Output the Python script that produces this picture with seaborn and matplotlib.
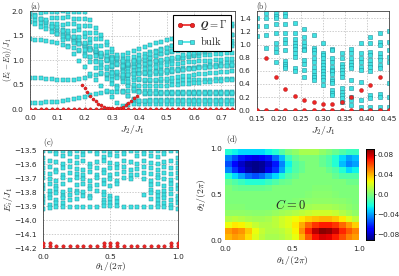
import numpy as np
import pandas as pd
import seaborn as sns
import matplotlib
matplotlib.use("Agg")
import matplotlib.pyplot as plt
from matplotlib.lines import Line2D

nan = np.nan

# ---------------- panel (a): low-lying spectrum vs J2/J1 ----------------
a_j2 = [0.00, 0.02, 0.04, 0.06, 0.08, 0.10, 0.12, 0.14, 0.16, 0.18,
        0.20, 0.22, 0.24, 0.26, 0.28, 0.30, 0.32, 0.34, 0.36, 0.38,
        0.40, 0.42, 0.44, 0.46, 0.48, 0.50, 0.52, 0.54, 0.56, 0.58,
        0.60, 0.62, 0.64, 0.66, 0.68, 0.70, 0.72, 0.74]

# bulk levels: (first grid index, values)
a_lvl_A = (0, [0.13, 0.13, 0.13, 0.135, 0.14, 0.15, 0.16, 0.175, 0.195, 0.22,
               0.25, 0.28, 0.31, 0.33, 0.345, 0.35, 0.355, 0.355, 0.36, 0.36,
               0.36, 0.36, 0.36, 0.36, 0.355, 0.355, 0.355, 0.355, 0.35, 0.35,
               0.35, 0.35, 0.35, 0.35, 0.345, 0.345, 0.345, 0.345])
a_lvl_B = (0, [0.63, 0.63, 0.625, 0.62, 0.61, 0.60, 0.595, 0.59, 0.595, 0.61,
               0.64, 0.67, 0.70, 0.71, 0.70, 0.68, 0.66, 0.64, 0.62, 0.60,
               0.59, 0.58, 0.58, 0.575, 0.575, 0.575, 0.58, 0.58, 0.585, 0.59,
               0.59, 0.595, 0.60, 0.60, 0.605, 0.61, 0.61, 0.615])
a_lvl_C = (0, [1.42, 1.41, 1.40, 1.38, 1.36, 1.34, 1.31, 1.28, 1.24, 1.19,
               1.13, 1.06, 0.98, 0.90, 0.82, 0.75, 0.70, 0.68, 0.69, 0.71,
               0.73, 0.75, 0.77, 0.78, 0.79, 0.80, 0.81, 0.82, 0.83, 0.84,
               0.84, 0.85, 0.86, 0.86, 0.87, 0.87, 0.88, 0.88])
a_lvl_D1 = (0, [1.98, 1.91, 1.84, 1.77, 1.70, 1.63, 1.56, 1.49, 1.42, 1.35,
                1.28, 1.21, 1.14, 1.07, 1.00, 0.94, 0.90, 0.88, 0.88, 0.89,
                0.91, 0.93, 0.95, 0.97, 0.99, 1.01, 1.02, 1.04, 1.05, 1.07,
                1.08, 1.09, 1.10, 1.11, 1.12, 1.13, 1.14, 1.15])
a_lvl_D2 = (0, [1.88, 1.82, 1.76, 1.70, 1.64, 1.58, 1.52, 1.46, 1.40, 1.34,
                1.28, 1.22, 1.16, 1.10, 1.04, 0.99, 0.96, 0.95, 0.96, 0.98,
                1.00, 1.03, 1.06, 1.09, 1.12, 1.14, 1.17, 1.19, 1.21, 1.23,
                1.25, 1.27, 1.29, 1.31, 1.33, 1.35, 1.37, 1.39])
a_lvl_D3 = (0, [1.78, 1.73, 1.68, 1.63, 1.58, 1.53, 1.48, 1.43, 1.38, 1.33,
                1.28, 1.23, 1.18, 1.13, 1.08, 1.04, 1.02, 1.02, 1.04, 1.07,
                1.10, 1.13, 1.16, 1.19, 1.22, 1.25, 1.28, 1.31, 1.34, 1.36,
                1.38, 1.40, 1.42, 1.44, 1.46, 1.48, 1.50, 1.52])
a_lvl_D4 = (0, [1.95, 1.89, 1.83, 1.78, 1.73, 1.68, 1.62, 1.55, 1.48, 1.40,
                1.32, 1.25, 1.19, 1.13, 1.08, 1.06, 1.07, 1.10, 1.14, 1.18,
                1.22, 1.26, 1.30, 1.34, 1.37, 1.40, 1.43, 1.46, 1.49, 1.52,
                1.55, 1.57, 1.59, 1.61, 1.63, 1.65, 1.67, 1.69])
a_lvl_F1 = (2, [1.96, 1.82, 1.68, 1.54, 1.40, 1.26, 1.12, 0.98, 0.85, 0.72,
                0.60, 0.48, 0.36, 0.24, 0.13, 0.06, 0.08, 0.10, 0.10, 0.10,
                0.10, 0.10, 0.10, 0.10, 0.10, 0.10, 0.10, 0.10, 0.095, 0.095,
                0.095, 0.095, 0.095, 0.095, 0.095, 0.095])
a_lvl_F2 = (4, [1.98, 1.85, 1.72, 1.59, 1.46, 1.33, 1.20, 1.07, 0.95, 0.83,
                0.71, 0.59, 0.47, 0.36, 0.26, 0.19, 0.17, 0.17, 0.175, 0.175,
                0.18, 0.18, 0.18, 0.18, 0.18, 0.18, 0.185, 0.185, 0.185, 0.185,
                0.19, 0.19, 0.19, 0.19])
a_lvl_F3 = (6, [2.00, 1.87, 1.74, 1.61, 1.48, 1.35, 1.22, 1.09, 0.97, 0.85,
                0.73, 0.62, 0.51, 0.42, 0.35, 0.31, 0.30, 0.30, 0.30, 0.30,
                0.30, 0.30, 0.30, 0.30, 0.30, 0.30, 0.30, 0.30, 0.30, 0.30,
                0.30, 0.30])
a_lvl_S1 = (3, [1.99, 1.86, 1.73, 1.60, 1.47, 1.34, 1.21, 1.08, 0.96, 0.84,
                0.73, 0.62, 0.52, 0.43, 0.35, 0.27, 0.21, 0.17, 0.16, 0.16,
                0.16, 0.165, 0.165, 0.165, 0.17, 0.17, 0.17, 0.17, 0.17, 0.17,
                0.17, 0.17, 0.17, 0.17, 0.17])
a_lvl_S2 = (5, [1.99, 1.86, 1.73, 1.60, 1.47, 1.34, 1.21, 1.08, 0.96, 0.85,
                0.74, 0.64, 0.55, 0.47, 0.40, 0.35, 0.33, 0.32, 0.32, 0.32,
                0.32, 0.32, 0.32, 0.32, 0.32, 0.32, 0.32, 0.32, 0.32, 0.32,
                0.32, 0.32, 0.32])
a_lvl_V1 = (7, [1.98, 1.84, 1.70, 1.56, 1.42, 1.28, 1.14, 1.01, 0.88, 0.76,
                0.65, 0.56, 0.50, 0.47, 0.46, 0.46, 0.46, 0.47, 0.48, 0.49,
                0.50, 0.51, 0.52, 0.53, 0.54, 0.55, 0.56, 0.57, 0.58, 0.59,
                0.60])
a_lvl_V2 = (8, [1.98, 1.84, 1.70, 1.56, 1.42, 1.29, 1.16, 1.03, 0.91, 0.80,
                0.71, 0.65, 0.61, 0.59, 0.59, 0.60, 0.61, 0.62, 0.64, 0.65,
                0.67, 0.68, 0.70, 0.71, 0.72, 0.73, 0.74, 0.75, 0.76, 0.77])
a_lvl_V3 = (9, [1.98, 1.84, 1.70, 1.56, 1.43, 1.30, 1.17, 1.05, 0.94, 0.85,
                0.78, 0.73, 0.71, 0.70, 0.71, 0.72, 0.74, 0.76, 0.78, 0.80,
                0.82, 0.84, 0.86, 0.87, 0.89, 0.90, 0.92, 0.93, 0.94])
a_lvl_V4 = (10, [1.98, 1.82, 1.66, 1.51, 1.37, 1.23, 1.10, 0.98, 0.90, 0.86,
                 0.85, 0.86, 0.88, 0.90, 0.93, 0.96, 0.99, 1.02, 1.05, 1.08,
                 1.11, 1.14, 1.17, 1.20, 1.23, 1.26, 1.29, 1.32])
a_lvl_R1 = (17, [0.80, 0.82, 0.85, 0.88, 0.91, 0.94, 0.97, 1.00, 1.02, 1.05,
                 1.07, 1.10, 1.12, 1.14, 1.16, 1.18, 1.20, 1.22, 1.24, 1.26, 1.28])
a_lvl_R2 = (17, [0.86, 0.89, 0.93, 0.97, 1.01, 1.05, 1.09, 1.12, 1.16, 1.19,
                 1.22, 1.25, 1.28, 1.31, 1.34, 1.37, 1.40, 1.43, 1.46, 1.49, 1.52])
a_lvl_R3 = (17, [0.88, 0.92, 0.97, 1.02, 1.07, 1.12, 1.17, 1.21, 1.25, 1.29,
                 1.33, 1.37, 1.41, 1.45, 1.49, 1.53, 1.57, 1.61, 1.65, 1.69, 1.73])
a_lvl_R4 = (17, [0.75, 0.76, 0.78, 0.80, 0.82, 0.84, 0.86, 0.88, 0.89, 0.91,
                 0.92, 0.94, 0.95, 0.96, 0.97, 0.98, 0.99, 1.00, 1.01, 1.02, 1.03])
a_lvl_R5 = (17, [0.70, 0.70, 0.71, 0.72, 0.73, 0.74, 0.75, 0.76, 0.77, 0.78,
                 0.79, 0.80, 0.81, 0.82, 0.83, 0.84, 0.85, 0.86, 0.87, 0.88, 0.89])

a_levels = [a_lvl_A, a_lvl_B, a_lvl_C, a_lvl_D1, a_lvl_D2, a_lvl_D3, a_lvl_D4,
            a_lvl_F1, a_lvl_F2, a_lvl_F3, a_lvl_S1, a_lvl_S2,
            a_lvl_V1, a_lvl_V2, a_lvl_V3, a_lvl_V4,
            a_lvl_R1, a_lvl_R2, a_lvl_R3, a_lvl_R4, a_lvl_R5]

# Q = Gamma excitation
a_gamma_j2 = [0.19, 0.20, 0.21, 0.22, 0.23, 0.24, 0.25, 0.26, 0.27, 0.28,
              0.29, 0.30, 0.31, 0.32, 0.33, 0.34, 0.35, 0.36, 0.37, 0.38, 0.39]
a_gamma = [0.50, 0.42, 0.34, 0.27, 0.21, 0.16, 0.11, 0.075, 0.05, 0.03,
           0.02, 0.012, 0.01, 0.015, 0.03, 0.05, 0.08, 0.12, 0.17, 0.22, 0.26]
a_ground = [0.0] * len(a_j2)   # E_0 - E_0

# ---------------- panel (b): smaller cluster ----------------
b_j2 = [0.15, 0.1714, 0.1929, 0.2143, 0.2357, 0.2571, 0.2786, 0.30,
        0.3214, 0.3429, 0.3643, 0.3857, 0.4071, 0.4286, 0.45]
b_gamma = [nan, 0.79, 0.50, 0.32, 0.21, 0.16, 0.12, 0.09,
           0.09, 0.12, 0.20, 0.30, 0.39, 0.51, nan]
b_ground = [0.0, 0.0, 0.0, 0.0, 0.0, 0.0, 0.0, 0.0, 0.0, 0.0, 0.0, 0.0, 0.0, 0.0, 0.0]
b_bulk = [
    [1.40, 1.28, 1.13],
    [1.48, 1.40, 1.28, 1.15, 0.95],
    [1.48, 1.44, 1.40, 1.31, 1.17, 1.02, 0.95, 0.88, 0.73],
    [1.48, 1.44, 1.31, 1.18, 1.08, 1.02, 0.91, 0.75, 0.71, 0.67, 0.64],
    [1.33, 1.18, 1.08, 1.02, 0.97, 0.93, 0.87, 0.81, 0.64, 0.59],
    [1.23, 1.12, 1.04, 0.97, 0.93, 0.91, 0.76, 0.71, 0.61, 0.51],
    [1.15, 0.94, 0.91, 0.87, 0.79, 0.74, 0.66, 0.60, 0.53, 0.50, 0.46],
    [1.03, 0.87, 0.84, 0.79, 0.74, 0.69, 0.64, 0.59, 0.55, 0.50, 0.46, 0.38],
    [0.93, 0.91, 0.80, 0.74, 0.66, 0.61, 0.59, 0.55, 0.48, 0.45, 0.41, 0.31, 0.26, 0.23],
    [0.87, 0.79, 0.71, 0.66, 0.61, 0.56, 0.51, 0.33, 0.28, 0.23, 0.18, 0.13],
    [0.93, 0.87, 0.79, 0.74, 0.69, 0.64, 0.46, 0.33, 0.20, 0.15, 0.08],
    [1.02, 0.87, 0.79, 0.74, 0.66, 0.61, 0.43, 0.15, 0.04],
    [1.12, 1.02, 0.89, 0.84, 0.76, 0.71, 0.66, 0.59, 0.23, 0.18, 0.04],
    [1.17, 1.04, 0.99, 0.87, 0.81, 0.76, 0.69, 0.64, 0.25, 0.20, 0.04],
    [1.20, 1.04, 0.92, 0.81, 0.74, 0.41, 0.20, 0.05],
]

# ---------------- panel (c): spectrum vs twist angle ----------------
c_theta = [0.0, 0.05, 0.1, 0.15, 0.2, 0.25, 0.3, 0.35, 0.4, 0.45, 0.5,
           0.55, 0.6, 0.65, 0.7, 0.75, 0.8, 0.85, 0.9, 0.95, 1.0]
c_band1 = [-13.51, -13.505, -13.505, -13.51, -13.505, -13.505, -13.51, -13.505, -13.505, -13.51, -13.505,
           -13.505, -13.51, -13.505, -13.505, -13.51, -13.505, -13.505, -13.51, -13.505, -13.51]
c_band2 = [-13.555, nan, -13.53, -13.54, -13.53, -13.55, -13.535, nan, -13.53, -13.55, -13.535,
           -13.54, -13.53, nan, -13.545, -13.53, -13.54, -13.55, -13.53, nan, -13.555]
c_band3 = [-13.59, -13.58, -13.585, -13.60, -13.58, -13.59, -13.575, -13.60, -13.585, -13.58, -13.59,
           -13.60, -13.58, -13.585, -13.60, -13.58, -13.59, -13.60, -13.585, -13.58, -13.59]
c_band4 = [-13.63, -13.62, -13.64, -13.625, -13.62, -13.635, -13.64, -13.62, -13.63, -13.64, -13.625,
           -13.63, -13.62, -13.64, -13.635, -13.62, -13.63, -13.645, -13.62, -13.63, -13.63]
c_band5 = [-13.665, -13.67, -13.66, -13.68, -13.665, -13.67, -13.68, -13.66, -13.675, -13.665, -13.68,
           -13.67, -13.66, -13.675, -13.68, -13.665, -13.67, -13.68, -13.665, -13.67, -13.665]
c_band6 = [-13.70, -13.71, -13.72, -13.70, -13.715, -13.70, -13.71, -13.72, -13.70, -13.715, -13.71,
           -13.72, -13.70, -13.71, nan, -13.705, -13.72, -13.70, -13.71, -13.715, -13.70]
c_band7 = [-13.75, -13.74, -13.76, -13.745, nan, -13.75, -13.74, -13.76, -13.75, -13.74, -13.755,
           -13.745, nan, nan, nan, nan, -13.75, -13.74, -13.76, -13.745, -13.75]
c_band8 = [-13.78, -13.79, -13.78, -13.80, -13.785, -13.79, -13.80, -13.78, -13.79, -13.80, nan,
           nan, nan, nan, nan, nan, -13.785, -13.80, -13.79, -13.78, -13.78]
c_band9 = [-13.825, -13.82, -13.81, -13.83, -13.82, -13.81, -13.825, -13.83, nan, -13.82, -13.83,
           nan, nan, nan, nan, -13.82, -13.81, -13.83, -13.82, -13.815, -13.825]
c_band10 = [-13.85, -13.845, -13.86, -13.84, -13.855, -13.85, nan, -13.845, nan, -13.86, -13.85,
            -13.845, nan, nan, nan, nan, -13.85, -13.86, -13.845, -13.855, -13.85]
c_band11 = [-13.88, -13.89, -13.875, -13.88, nan, nan, nan, nan, nan, -13.875, -13.88,
            -13.87, nan, nan, nan, nan, nan, -13.885, -13.88, -13.89, -13.88]
c_band12 = [-13.92, -13.915, -13.905, -13.905, -13.905, -13.905, -13.905, -13.905, -13.905, -13.90, -13.90,
            -13.90, -13.905, -13.905, -13.905, -13.91, -13.91, -13.905, -13.91, -13.915, -13.92]
c_bands = [c_band1, c_band2, c_band3, c_band4, c_band5, c_band6,
           c_band7, c_band8, c_band9, c_band10, c_band11, c_band12]
c_gs_low = [-14.185] * len(c_theta)
c_gs_up_theta = [0.0, 0.05, 0.45, 0.5, 0.55, 0.95, 1.0]
c_gs_up = [-14.165, -14.165, -14.165, -14.165, -14.165, -14.165, -14.165]

# ---------------- panel (d): Berry curvature, rows from theta2=1 down to 0 ----------------
d_berry = [
    [-0.02, -0.025, -0.03, -0.03, -0.03, -0.03, -0.025, -0.02, -0.01, 0.0, 0.005, 0.01, 0.01, 0.01, 0.005, 0.0, -0.005, -0.01, -0.015, -0.015],
    [-0.045, -0.055, -0.065, -0.072, -0.075, -0.072, -0.065, -0.05, -0.035, -0.015, -0.005, 0.0, 0.0, 0.0, -0.005, -0.01, -0.02, -0.03, -0.04, -0.035],
    [-0.055, -0.068, -0.08, -0.088, -0.09, -0.088, -0.08, -0.065, -0.045, -0.025, -0.01, -0.005, 0.0, 0.0, -0.005, -0.01, -0.02, -0.035, -0.045, -0.04],
    [-0.045, -0.06, -0.075, -0.085, -0.09, -0.087, -0.075, -0.06, -0.04, -0.02, -0.01, -0.005, 0.0, 0.0, 0.0, -0.005, -0.01, -0.02, -0.03, -0.025],
    [-0.02, -0.03, -0.04, -0.05, -0.055, -0.05, -0.04, -0.03, -0.02, -0.01, -0.005, 0.0, 0.0, 0.0, 0.0, 0.0, -0.005, -0.01, -0.01, -0.01],
    [-0.005, -0.01, -0.015, -0.02, -0.02, -0.02, -0.015, -0.01, -0.005, -0.003, 0.0, 0.0, 0.0, 0.0, 0.0, 0.0, 0.0, 0.0, -0.003, -0.003],
    [0.0, -0.003, -0.005, -0.005, -0.005, -0.005, -0.003, 0.0, 0.0, 0.0, 0.0, 0.0, 0.0, 0.002, 0.002, 0.002, 0.0, 0.0, 0.0, 0.0],
    [0.0, 0.0, 0.0, 0.0, 0.0, 0.0, 0.0, 0.0, 0.0, 0.0, 0.0, 0.0, 0.002, 0.003, 0.003, 0.003, 0.002, 0.0, 0.0, 0.0],
    [0.0, 0.0, 0.0, 0.0, 0.0, 0.0, 0.0, 0.0, 0.0, 0.0, 0.002, 0.003, 0.004, 0.005, 0.005, 0.005, 0.004, 0.003, 0.002, 0.0],
    [0.002, 0.002, 0.002, 0.0, 0.0, 0.0, 0.0, 0.002, 0.003, 0.004, 0.005, 0.006, 0.008, 0.01, 0.01, 0.01, 0.008, 0.006, 0.004, 0.002],
    [0.005, 0.005, 0.005, 0.004, 0.003, 0.003, 0.004, 0.006, 0.008, 0.01, 0.012, 0.014, 0.016, 0.018, 0.018, 0.018, 0.016, 0.012, 0.008, 0.005],
    [0.012, 0.014, 0.012, 0.01, 0.008, 0.008, 0.01, 0.014, 0.018, 0.022, 0.026, 0.03, 0.035, 0.038, 0.04, 0.04, 0.036, 0.03, 0.022, 0.015],
    [0.025, 0.03, 0.028, 0.022, 0.016, 0.012, 0.012, 0.014, 0.018, 0.022, 0.03, 0.042, 0.055, 0.065, 0.07, 0.07, 0.065, 0.055, 0.045, 0.035],
    [0.045, 0.05, 0.046, 0.036, 0.025, 0.016, 0.012, 0.012, 0.014, 0.018, 0.028, 0.048, 0.068, 0.082, 0.09, 0.088, 0.08, 0.068, 0.058, 0.05],
    [0.04, 0.045, 0.042, 0.032, 0.022, 0.014, 0.01, 0.01, 0.012, 0.016, 0.024, 0.04, 0.058, 0.072, 0.078, 0.076, 0.07, 0.06, 0.05, 0.045],
]
d_ticks = [0.08, 0.04, 0.0, -0.04, -0.08]

# ---------------- style ----------------
CYAN, CYAN_EDGE = "#3fe3e3", "#23909a"
RED, RED_EDGE = "#ee2424", "#a81010"

sns.set_style("whitegrid")
plt.rcParams["font.family"] = ["DejaVu Sans"]
plt.rcParams["mathtext.fontset"] = "cm"
plt.rcParams["xtick.labelsize"] = 5.3
plt.rcParams["ytick.labelsize"] = 5.3
plt.rcParams["axes.labelsize"] = 7


def style_axes(ax):
    ax.grid(True, color="0.72", linestyle=(0, (2, 2)), linewidth=0.5)
    for sp in ax.spines.values():
        sp.set_color("0.25")
        sp.set_linewidth(0.6)
    ax.tick_params(pad=1.0)


def bulk_frame(x, levels):
    parts = []
    for start, vals in levels:
        parts.append(pd.DataFrame({"x": x[start:start + len(vals)], "E": vals}))
    return pd.concat(parts, ignore_index=True)


fig = plt.figure(figsize=(3.99, 2.76), dpi=100)
ax_a = fig.add_axes([0.0752, 0.605, 0.5138, 0.355])
ax_b = fig.add_axes([0.644, 0.601, 0.331, 0.359])
ax_c = fig.add_axes([0.1078, 0.1014, 0.338, 0.355])
ax_d = fig.add_axes([0.564, 0.1304, 0.336, 0.33])
cax = fig.add_axes([0.917, 0.1304, 0.02, 0.33])

# (a)
df_a = bulk_frame(a_j2, a_levels)
sns.scatterplot(data=df_a, x="x", y="E", marker="s", s=7.5, color=CYAN,
                edgecolor=CYAN_EDGE, linewidth=0.35, ax=ax_a, legend=False, zorder=2)
sns.scatterplot(x=a_j2, y=a_ground, marker="o", s=6, color=RED, edgecolor=RED_EDGE,
                linewidth=0.3, ax=ax_a, legend=False, zorder=3)
sns.scatterplot(x=a_gamma_j2, y=a_gamma, marker="o", s=5, color=RED, edgecolor=RED_EDGE,
                linewidth=0.3, ax=ax_a, legend=False, zorder=3)
ax_a.set_xlim(0, 0.75)
ax_a.set_ylim(0, 2.0)
ax_a.set_xticks([0.0, 0.1, 0.2, 0.3, 0.4, 0.5, 0.6, 0.7])
ax_a.set_yticks([0.0, 0.5, 1.0, 1.5, 2.0])
ax_a.set_xlabel(r"$J_2/J_1$", labelpad=1)
ax_a.set_ylabel(r"$(E_i-E_0)/J_1$", fontsize=5.6)
ax_a.yaxis.set_label_coords(-0.079, 0.5)
style_axes(ax_a)
handles = [Line2D([0], [0], color=RED, marker="o", ms=3.2, lw=1.2, mec=RED_EDGE, mew=0.4),
           Line2D([0], [0], color=CYAN, marker="s", ms=3.2, lw=1.2, mec=CYAN_EDGE, mew=0.4)]
leg = ax_a.legend(handles, [r"$\boldsymbol{Q}=\Gamma$", r"$\mathrm{bulk}$"],
                  loc="upper right", fontsize=7.5, numpoints=2, handlelength=1.8,
                  frameon=True, fancybox=False, framealpha=1, edgecolor="k",
                  borderaxespad=0.35, handletextpad=0.5, borderpad=0.35, labelspacing=0.3)
leg.get_frame().set_linewidth(0.8)
ax_a.text(0.0, 0.985, r"$\mathrm{(a)}$", transform=ax_a.transAxes, fontsize=5.5, va="bottom")

# (b)
bx, by = [], []
for xv, col in zip(b_j2, b_bulk):
    bx += [xv] * len(col)
    by += col
sns.scatterplot(x=bx, y=by, marker="s", s=8, color=CYAN, edgecolor=CYAN_EDGE,
                linewidth=0.4, ax=ax_b, legend=False, zorder=2)
sns.scatterplot(x=b_j2, y=b_ground, marker="o", s=8, color=RED, edgecolor=RED_EDGE,
                linewidth=0.3, ax=ax_b, legend=False, zorder=3)
sns.scatterplot(x=b_j2, y=b_gamma, marker="o", s=8, color=RED, edgecolor=RED_EDGE,
                linewidth=0.3, ax=ax_b, legend=False, zorder=3)
ax_b.set_xlim(0.15, 0.45)
ax_b.set_ylim(0, 1.51)
ax_b.set_xticks([0.15, 0.20, 0.25, 0.30, 0.35, 0.40, 0.45])
ax_b.set_xticklabels(["0.15", "0.20", "0.25", "0.30", "0.35", "0.40", "0.45"])
ax_b.set_yticks([0.0, 0.2, 0.4, 0.6, 0.8, 1.0, 1.2, 1.4])
ax_b.set_xlabel(r"$J_2/J_1$", labelpad=1)
style_axes(ax_b)
ax_b.text(-0.01, 0.985, r"$\mathrm{(b)}$", transform=ax_b.transAxes, fontsize=5.5, va="bottom")

# (c)
cx, cy = [], []
for band in c_bands:
    for xv, yv in zip(c_theta, band):
        if not np.isnan(yv):
            cx.append(xv)
            cy.append(yv)
sns.scatterplot(x=cx, y=cy, marker="s", s=6, color=CYAN, edgecolor=CYAN_EDGE,
                linewidth=0.35, ax=ax_c, legend=False, zorder=2)
sns.scatterplot(x=c_theta, y=c_gs_low, marker="o", s=6, color=RED, edgecolor=RED_EDGE,
                linewidth=0.3, ax=ax_c, legend=False, zorder=3)
sns.scatterplot(x=c_gs_up_theta, y=c_gs_up, marker="o", s=6, color=RED, edgecolor=RED_EDGE,
                linewidth=0.3, ax=ax_c, legend=False, zorder=3)
ax_c.set_xlim(0, 1)
ax_c.set_ylim(-14.2, -13.5)
ax_c.set_xticks([0.0, 0.5, 1.0])
ax_c.set_yticks([-14.2, -14.1, -14.0, -13.9, -13.8, -13.7, -13.6, -13.5])
ax_c.set_xlabel(r"$\theta_1/(2\pi)$", labelpad=0, fontsize=6.8)
ax_c.set_ylabel(r"$E_i/J_1$")
ax_c.yaxis.set_label_coords(-0.21, 0.5)
style_axes(ax_c)
ax_c.text(0.0, 1.01, r"$\mathrm{(c)}$", transform=ax_c.transAxes, fontsize=6, va="bottom")

# (d)
sns.heatmap(np.array(d_berry), ax=ax_d, cmap="jet", vmin=-0.092, vmax=0.092,
            cbar_ax=cax, xticklabels=False, yticklabels=False)
ax_d.set_xticks([0, 10, 20])
ax_d.set_xticklabels(["0.0", "0.5", "1.0"], rotation=0)
ax_d.set_yticks([0, 7.5, 15])
ax_d.set_yticklabels(["1.0", "0.5", "0.0"], rotation=0)
ax_d.tick_params(axis="x", length=0, pad=4)
ax_d.tick_params(axis="y", length=0, pad=2)
ax_d.set_xlabel(r"$\theta_1/(2\pi)$", labelpad=2)
ax_d.set_ylabel(r"$\theta_2/(2\pi)$", labelpad=2)
ax_d.text(9.7, 9.2, r"$C=0$", fontsize=9, ha="center", va="center")
ax_d.text(0.2, -0.5, r"$\mathrm{(d)}$", fontsize=6, va="bottom")
cax.set_yticks(d_ticks)
cax.set_yticklabels(["0.08", "0.04", "0.0", "\u22120.04", "\u22120.08"])
cax.tick_params(length=1.5, width=0.5, pad=1, labelsize=5.2)
for sp in cax.spines.values():
    sp.set_visible(True)
    sp.set_color("k")
    sp.set_linewidth(0.6)

fig.savefig("out.png", dpi=100)
